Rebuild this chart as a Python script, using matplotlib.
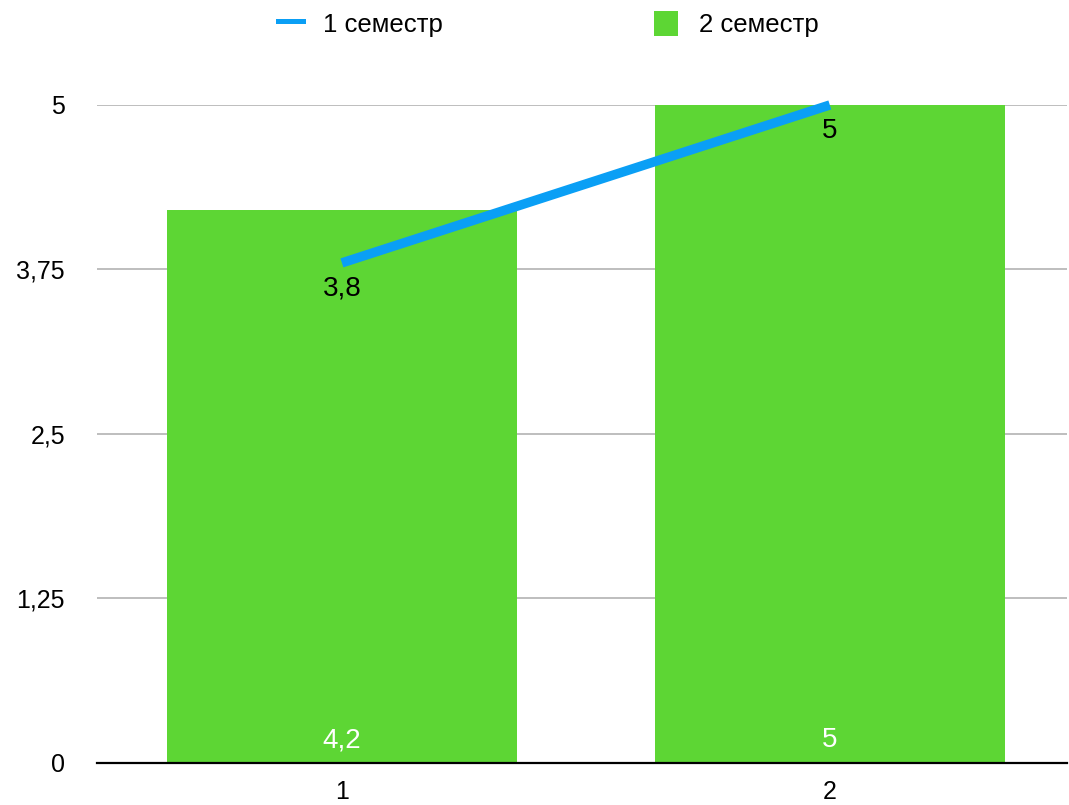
import matplotlib
matplotlib.use("Agg")
import matplotlib.pyplot as plt
from matplotlib.lines import Line2D
from matplotlib.patches import Patch

plt.rcParams['font.family'] = ['Liberation Sans', 'DejaVu Sans']

# data
categories = ["1", "2"]
sem1 = [3.8, 5]
sem2 = [4.2, 5]
sem1_labels = ["3,8", "5"]
sem2_labels = ["4,2", "5"]
yticks = [0, 1.25, 2.5, 3.75, 5]
ytick_labels = ["0", "1,25", "2,5", "3,75", "5"]

green = "#5dd634"
blue = "#0a9ff5"

fig = plt.figure(figsize=(10.69, 8.05), dpi=100)
ax = fig.add_axes([0.0907, 0.0522, 0.9074, 0.8174])

x = list(range(len(categories)))
ax.bar(x, sem2, width=0.717, color=green, zorder=2)
ax.plot(x, sem1, color=blue, lw=6.8, solid_capstyle="butt", zorder=3, clip_on=False)

for xi, v, lab in zip(x, sem1, sem1_labels):
    ax.annotate(lab, (xi, v), xytext=(0, -18.5), textcoords="offset points",
                ha="center", va="center", fontsize=20, color="black", zorder=4)
for xi, lab in zip(x, sem2_labels):
    ax.annotate(lab, (xi, 0), xytext=(0, 16.5), textcoords="offset points",
                ha="center", va="center", fontsize=20, color="white", zorder=4)

ax.set_xlim(-0.502, 1.486)
ax.set_ylim(0, 5)
ax.set_yticks(yticks)
ax.set_yticklabels(ytick_labels)
ax.set_xticks(x)
ax.set_xticklabels(categories)
ax.tick_params(axis="both", length=0, labelsize=18)
ax.tick_params(axis="y", pad=23)
ax.tick_params(axis="x", pad=12)
ax.grid(axis="y", color="#b3b3b3", lw=1.2, zorder=1)
for s in ["top", "right", "left"]:
    ax.spines[s].set_visible(False)
ax.spines["bottom"].set_linewidth(1.6)
ax.spines["bottom"].set_zorder(5)

handles = [Line2D([0], [0], color=blue, lw=3.6),
           Patch(facecolor=green, edgecolor="none")]
fig.legend(handles, ["1 семестр", "2 семестр"], loc="center",
           bbox_to_anchor=(0.513, 1 - 24 / 805), ncol=2, frameon=False, fontsize=18.5,
           handlelength=0.95, handleheight=1.1, handletextpad=0.8,
           columnspacing=8.2, borderpad=0)

fig.savefig("out.png", dpi=100)
